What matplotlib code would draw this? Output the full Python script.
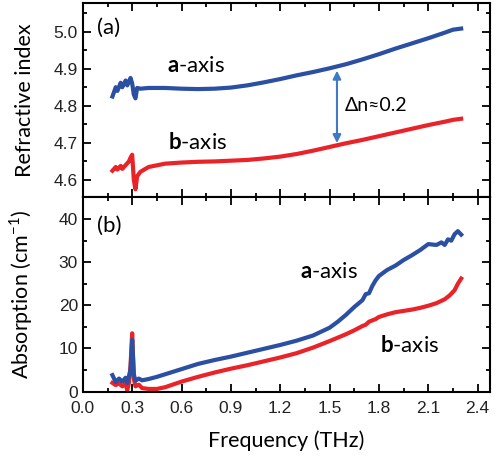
import matplotlib.pyplot as plt
import numpy as np

# refractive index (top panel)
f_na = [0.18, 0.20, 0.21, 0.23, 0.24, 0.26, 0.27, 0.29, 0.30, 0.31, 0.32, 0.33, 0.35, 0.40,
        0.50, 0.60, 0.70, 0.80, 0.90, 1.00, 1.10, 1.20, 1.30, 1.40, 1.50, 1.60, 1.70,
        1.80, 1.90, 2.00, 2.10, 2.20, 2.25, 2.30]
n_a = [4.825, 4.850, 4.840, 4.862, 4.850, 4.868, 4.855, 4.875, 4.860, 4.830, 4.820, 4.848, 4.846, 4.848,
       4.848, 4.846, 4.845, 4.846, 4.849, 4.855, 4.863, 4.872, 4.882, 4.891, 4.901, 4.912, 4.925,
       4.939, 4.954, 4.968, 4.982, 4.997, 5.005, 5.008]

f_nb = [0.18, 0.20, 0.21, 0.23, 0.24, 0.26, 0.28, 0.29, 0.30, 0.31, 0.32, 0.33, 0.35, 0.40,
        0.50, 0.60, 0.70, 0.80, 0.90, 1.00, 1.10, 1.20, 1.30, 1.40, 1.50, 1.60, 1.70,
        1.80, 1.90, 2.00, 2.10, 2.20, 2.25, 2.30]
n_b = [4.625, 4.635, 4.628, 4.638, 4.630, 4.640, 4.650, 4.660, 4.668, 4.600, 4.575, 4.610, 4.622, 4.635,
       4.644, 4.647, 4.649, 4.650, 4.652, 4.654, 4.658, 4.663, 4.670, 4.679, 4.689, 4.699, 4.708,
       4.718, 4.728, 4.738, 4.748, 4.757, 4.762, 4.765]

# absorption (bottom panel)
f_aa = [0.18, 0.20, 0.22, 0.24, 0.26, 0.27, 0.28, 0.29, 0.30, 0.31, 0.32, 0.34, 0.36, 0.40,
        0.45, 0.50, 0.60, 0.70, 0.80, 0.90, 1.00, 1.10, 1.20, 1.30, 1.40, 1.50, 1.55, 1.60,
        1.65, 1.70, 1.72, 1.74, 1.76, 1.78, 1.80, 1.85, 1.90, 1.95, 2.00, 2.05, 2.10, 2.15,
        2.18, 2.20, 2.22, 2.24, 2.26, 2.28, 2.30]
a_a = [3.8, 2.2, 3.0, 2.3, 3.2, 2.0, 3.5, 5.0, 12.0, 4.0, 2.5, 3.0, 2.6, 2.9,
       3.4, 4.0, 5.2, 6.4, 7.3, 8.1, 9.0, 9.9, 10.8, 11.8, 13.0, 14.8, 16.2, 17.8,
       19.6, 21.2, 22.6, 22.8, 24.5, 25.8, 26.8, 28.2, 29.2, 30.5, 31.6, 32.8, 34.2, 34.0,
       34.6, 34.0, 35.3, 35.0, 36.5, 37.2, 36.4]

f_ab = [0.18, 0.20, 0.22, 0.24, 0.26, 0.27, 0.28, 0.29, 0.30, 0.31, 0.32, 0.34, 0.36, 0.40,
        0.45, 0.50, 0.60, 0.70, 0.80, 0.90, 1.00, 1.10, 1.20, 1.30, 1.40, 1.50, 1.60, 1.65,
        1.70, 1.72, 1.74, 1.78, 1.80, 1.85, 1.90, 1.95, 2.00, 2.05, 2.10, 2.15, 2.20, 2.23,
        2.26, 2.28, 2.30]
a_b = [2.0, 1.5, 1.9, 1.2, 1.8, 0.3, 2.0, 6.0, 13.5, 3.0, 1.2, 1.6, 0.8, 0.6,
       0.6, 1.0, 2.3, 3.4, 4.4, 5.3, 6.1, 7.0, 7.9, 8.9, 10.2, 11.7, 13.3, 14.2,
       15.2, 15.5, 16.2, 16.8, 17.3, 17.9, 18.4, 18.7, 19.0, 19.4, 19.9, 20.5, 21.4, 22.3,
       23.5, 25.0, 26.2]

blue = '#2b4fa2'
red = '#ea2329'
lblfont = ['Lato', 'DejaVu Sans']

plt.rcParams['font.family'] = 'Liberation Sans'
plt.rcParams['axes.linewidth'] = 1.5
plt.rcParams['mathtext.fontset'] = 'custom'
plt.rcParams['mathtext.rm'] = 'Lato'
plt.rcParams['mathtext.bf'] = 'Lato:bold'

fig = plt.figure(figsize=(5.02, 4.59), dpi=100)
ax1 = fig.add_axes([0.165, 0.5715, 0.811, 0.422])
ax2 = fig.add_axes([0.165, 0.147, 0.811, 0.4245], sharex=ax1)

ax1.plot(f_na, n_a, color=blue, lw=3)
ax1.plot(f_nb, n_b, color=red, lw=3)
ax2.plot(f_ab, a_b, color=red, lw=3)
ax2.plot(f_aa, a_a, color=blue, lw=3)

ax1.set_ylim(4.555, 5.077)
ax2.set_ylim(0, 45.2)
ax2.set_xlim(0, 2.475)
ax1.set_yticks([4.6, 4.7, 4.8, 4.9, 5.0])
ax1.set_yticks(np.arange(4.6, 5.06, 0.05), minor=True)
ax2.set_yticks([0, 10, 20, 30, 40])
ax2.set_yticks(np.arange(0, 45, 5), minor=True)
ax2.set_xticks(np.arange(0, 2.41, 0.3))
ax2.set_xticks(np.arange(0, 2.47, 0.15), minor=True)
ax2.set_xticklabels(['%.1f' % v for v in np.arange(0, 2.41, 0.3)])
ax1.tick_params(labelbottom=False)

for ax in (ax1, ax2):
    ax.tick_params(which='both', direction='in', top=True, right=True, width=1.3,
                   labelsize=12.5, labelcolor='#222222')
    ax.tick_params(which='major', length=6)
    ax.tick_params(which='minor', length=3)
ax2.tick_params(axis='x', pad=7)

ax1.set_ylabel('Refractive index', fontsize=15.5, family=lblfont)
ax2.set_ylabel('Absorption (cm$^{\\mathregular{-1}}$)', fontsize=15.5, family=lblfont)
ax2.set_xlabel('Frequency (THz)', fontsize=15.5, family=lblfont, labelpad=10)
ax1.yaxis.set_label_coords(-0.118, 0.5)
ax2.yaxis.set_label_coords(-0.118, 0.5)

ax1.text(0.085, 5.01, '(a)', fontsize=16, family=lblfont, va='center')
ax2.text(0.085, 38.5, '(b)', fontsize=16, family=lblfont, va='center')

ax1.text(0.51, 4.906, r'$\mathbf{a}$-axis', fontsize=16, family=lblfont, va='center')
ax1.text(0.52, 4.70, r'$\mathbf{b}$-axis', fontsize=16, family=lblfont, va='center')
ax2.text(1.32, 27.7, r'$\mathbf{a}$-axis', fontsize=16, family=lblfont, va='center')
ax2.text(1.807, 10.6, r'$\mathbf{b}$-axis', fontsize=16, family=lblfont, va='center')

ax1.annotate('', xy=(1.545, 4.902), xytext=(1.545, 4.692),
             arrowprops=dict(arrowstyle='<|-|>', color='#3d7cc4', lw=1.5, mutation_scale=12))
ax1.text(1.59, 4.80, '\u0394n\u22480.2', fontsize=14, family=lblfont, va='center')

fig.savefig('out.png', dpi=100)
